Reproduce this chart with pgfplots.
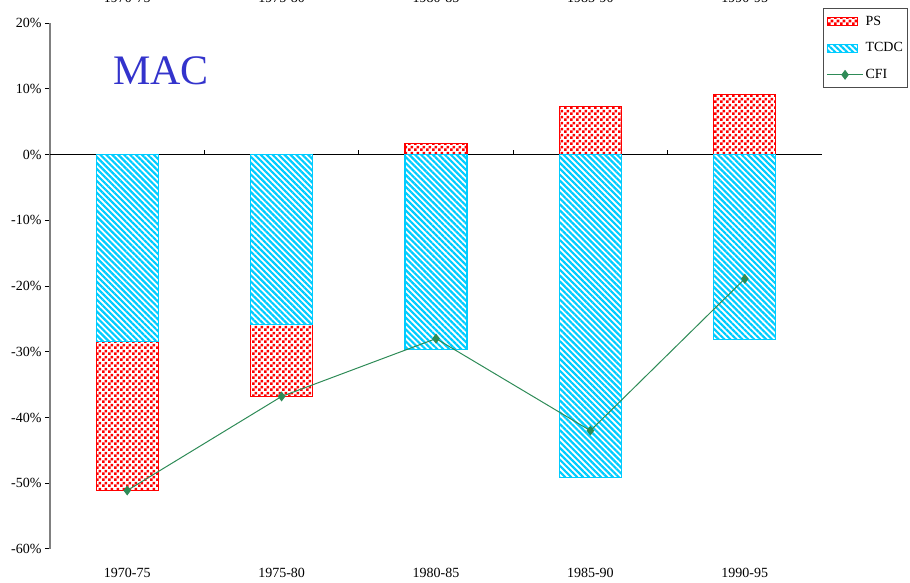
\documentclass[border=0pt]{standalone}
\usepackage{fontspec}
\setmainfont{Liberation Serif}
\usepackage{pgfplots}
\pgfplotsset{compat=1.18}
\usetikzlibrary{patterns.meta}
\definecolor{pscol}{RGB}{255,0,0}
\definecolor{tccol}{RGB}{0,204,255}
\definecolor{cficol}{RGB}{46,139,87}
\definecolor{maccol}{RGB}{51,51,204}
\tikzdeclarepattern{
  name=redcheck,
  type=uncolored,
  bounding box={(0pt,0pt) and (6pt,6pt)},
  tile size={(6pt,6pt)},
  code={\fill (0pt,0pt) rectangle (3pt,3pt); \fill (3pt,3pt) rectangle (6pt,6pt);}
}
\pgfplotsset{
  barlegend/.style={legend image code/.code={\draw[##1] (0pt,-4pt) rectangle (30pt,4pt);}},
  linelegend/.style={legend image code/.code={\draw[mark repeat=2,mark phase=2,##1] plot coordinates {(0pt,0pt) (18pt,0pt) (36pt,0pt)};}},
}
\begin{document}
\begin{tikzpicture}
\begin{axis}[
  name=ax,
  scale only axis, width=772pt, height=526pt,
  xmin=-0.5, xmax=4.5, ymin=-60, ymax=20,
  ybar stacked, stack negative=separate, bar width=62pt,
  xtick={0,1,2,3,4},
  xticklabels={1970-75,1975-80,1980-85,1985-90,1990-95},
  ytick={-60,-50,-40,-30,-20,-10,0,10,20},
  yticklabels={-60\%,-50\%,-40\%,-30\%,-20\%,-10\%,0\%,10\%,20\%},
  axis x line*=bottom, axis y line*=left,
  x axis line style={draw=none},
  major x tick style={draw=none},
  y axis line style={draw=gray, line width=2pt},
  major y tick style={black, line width=1pt},
  tick align=outside, major tick length=5pt,
  tick label style={font=\fontsize{14}{16}\selectfont},
  xticklabel style={yshift=-11pt},
  clip=false,
]
\addplot[draw=tccol, line width=1.2pt, pattern={Lines[angle=-45,distance=4.2pt,line width=2.2pt]}, pattern color=tccol]
  coordinates {(0,-28.4) (1,-25.9) (2,-29.7) (3,-49.1) (4,-28.1)};
\addplot[draw=pscol, line width=1.2pt, pattern=redcheck, pattern color=pscol]
  coordinates {(0,-22.7) (1,-10.9) (2,1.7) (3,7.3) (4,9.1)};
\draw[black, line width=1.2pt] (axis cs:-0.5,0) -- (axis cs:4.5,0);
\draw[black, line width=1pt] (axis cs:0.5,0) -- ++(0pt,5pt);
\draw[black, line width=1pt] (axis cs:1.5,0) -- ++(0pt,5pt);
\draw[black, line width=1pt] (axis cs:2.5,0) -- ++(0pt,5pt);
\draw[black, line width=1pt] (axis cs:3.5,0) -- ++(0pt,5pt);
\end{axis}
\begin{axis}[
  at={(ax.south west)}, anchor=south west,
  scale only axis, width=772pt, height=526pt,
  xmin=-0.5, xmax=4.5, ymin=-60, ymax=20,
  hide axis, clip=false,
  legend style={at={(1.0015,1.0285)}, anchor=north west, draw=gray!60!black, line width=0.8pt,
    font=\fontsize{14}{16}\selectfont, row sep=12pt, inner xsep=3pt, inner ysep=5.5pt},
  legend cell align=left,
]
\addlegendimage{draw=pscol, line width=1pt, pattern=redcheck, pattern color=pscol, barlegend}
\addlegendimage{draw=tccol, line width=1pt, pattern={Lines[angle=-45,distance=4.2pt,line width=2.2pt]}, pattern color=tccol, barlegend}
\addplot[cficol, line width=1pt, mark=diamond*, mark size=4.2pt, mark options={fill=cficol}, linelegend]
  coordinates {(0,-51.1) (1,-36.8) (2,-28.0) (3,-42.0) (4,-18.9)};
\legend{PS,TCDC,CFI}
\node[text=maccol, font=\fontsize{42}{48}\selectfont] at (axis cs:0.22,12.8) {MAC};
\node[font=\fontsize{14}{16}\selectfont] at (axis cs:0,20) [yshift=25pt] {1970-75};
\node[font=\fontsize{14}{16}\selectfont] at (axis cs:1,20) [yshift=25pt] {1975-80};
\node[font=\fontsize{14}{16}\selectfont] at (axis cs:2,20) [yshift=25pt] {1980-85};
\node[font=\fontsize{14}{16}\selectfont] at (axis cs:3,20) [yshift=25pt] {1985-90};
\node[font=\fontsize{14}{16}\selectfont] at (axis cs:4,20) [yshift=25pt] {1990-95};
\end{axis}
\pgfresetboundingbox
\path[use as bounding box] (-50pt,-34pt) rectangle (860pt,549pt);
\end{tikzpicture}
\end{document}
